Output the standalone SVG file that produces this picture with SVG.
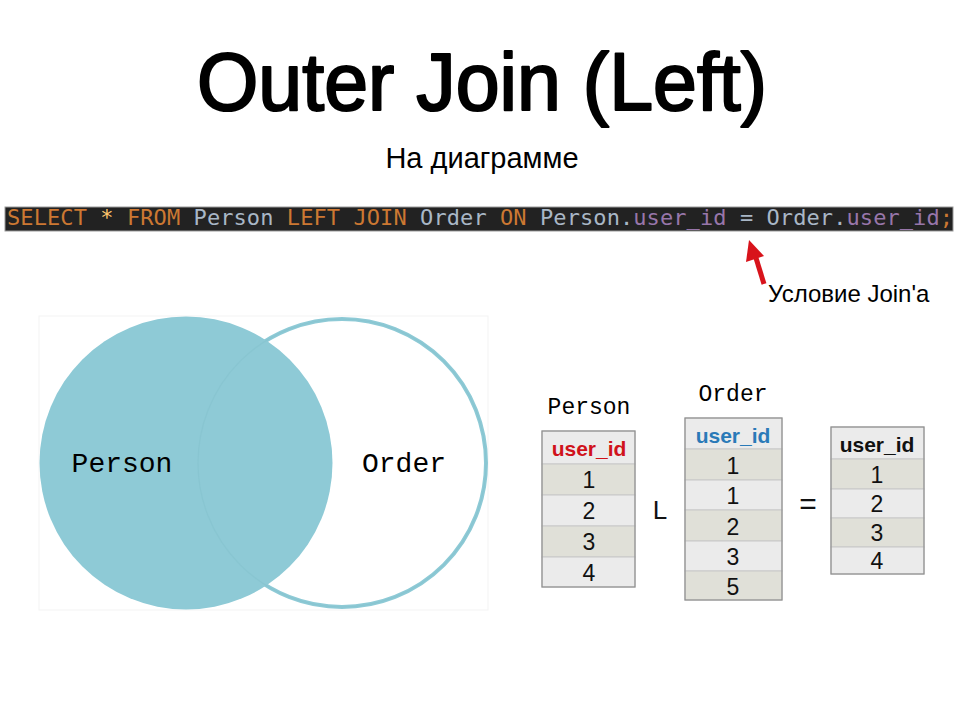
<svg xmlns="http://www.w3.org/2000/svg" width="963" height="701" viewBox="0 0 963 701">
  <defs>
    <style>
      .title { font-family: "Liberation Sans", Arial, sans-serif; font-size: 81px; fill: #000; stroke: #000; stroke-width: 2.2; stroke-linejoin: round; }
      .sub { font-family: "Liberation Sans", Arial, sans-serif; font-size: 29px; fill: #000; }
      .code { font-family: "DejaVu Sans Mono", monospace; font-size: 22px; }
      .kw { fill: #cc7832; }
      .id { fill: #a9b7c6; }
      .fld { fill: #9876aa; }
      .star { fill: #ffc66d; }
      .mono { font-family: "Liberation Mono", "Courier New", monospace; fill: #000; }
      .cell { font-family: "Liberation Sans", Arial, sans-serif; font-size: 23px; fill: #111; text-anchor: middle; }
      .hdr { font-family: "Liberation Sans", Arial, sans-serif; font-size: 21px; font-weight: bold; text-anchor: middle; }
      .rowA { fill: #e0e0d8; stroke: #c8c8c8; stroke-width: 1; }
      .rowB { fill: #ebebeb; stroke: #c8c8c8; stroke-width: 1; }
      .frame { fill: none; stroke: #8f8f8f; stroke-width: 1.2; }
      .op { font-family: "Liberation Sans", Arial, sans-serif; font-size: 26px; fill: #111; text-anchor: middle; }
    </style>
  </defs>

  <rect width="963" height="701" fill="#ffffff"/>

  <!-- Heading -->
  <g id="heading">
    <text class="title" x="197" y="110" textLength="570" lengthAdjust="spacingAndGlyphs">Outer Join (Left)</text>
    <text class="sub" x="482" y="168" text-anchor="middle">На диаграмме</text>
  </g>

  <!-- SQL statement -->
  <g id="query">
    <rect x="5" y="207" width="948" height="24" fill="#222222" stroke="#9a9a9a" stroke-width="1"/>
    <text class="code" x="7" y="225" textLength="946" lengthAdjust="spacing"><tspan class="kw">SELECT</tspan><tspan class="id"> </tspan><tspan class="star">*</tspan><tspan class="id"> </tspan><tspan class="kw">FROM</tspan><tspan class="id"> Person </tspan><tspan class="kw">LEFT JOIN</tspan><tspan class="id"> Order </tspan><tspan class="kw">ON</tspan><tspan class="id"> Person.</tspan><tspan class="fld">user_id</tspan><tspan class="id"> = Order.</tspan><tspan class="fld">user_id</tspan><tspan class="kw">;</tspan></text>
  </g>

  <!-- Connectors -->
  <g id="connectors">
    <line x1="764" y1="284" x2="756" y2="258" stroke="#d8131b" stroke-width="5"/>
    <polygon points="749,240 764,256 746,262" fill="#d8131b"/>
  </g>

  <g id="condition-label">
    <text class="sub" x="768" y="302" style="font-size:24px">Условие Join'a</text>
  </g>

  <!-- Venn diagram -->
  <g id="venn">
    <rect x="39" y="316" width="449" height="294" fill="#ffffff" stroke="#f3f3f3" stroke-width="1"/>
    <circle cx="342" cy="463" r="144" fill="#ffffff" stroke="#8ecad6" stroke-width="4"/>
    <circle cx="186" cy="463" r="146.5" fill="#8ecad6"/>
    <circle cx="342" cy="463" r="144" fill="none" stroke="#86c3cf" stroke-width="1.2" opacity="0.7"/>
    <text class="mono" x="122" y="472" font-size="28" text-anchor="middle">Person</text>
    <text class="mono" x="404" y="472" font-size="28" text-anchor="middle">Order</text>
  </g>

  <!-- Person table -->
  <g id="person-table">
    <text class="mono" x="589" y="414" font-size="23" text-anchor="middle">Person</text>
    <rect class="rowB" x="542" y="431" width="93" height="33"/>
    <rect class="rowA" x="542" y="464" width="93" height="31"/>
    <rect class="rowB" x="542" y="495" width="93" height="31"/>
    <rect class="rowA" x="542" y="526" width="93" height="31"/>
    <rect class="rowB" x="542" y="557" width="93" height="30"/>
    <rect class="frame" x="542" y="431" width="93" height="156"/>
    <text class="hdr" x="589" y="456" fill="#d0121b">user_id</text>
    <text class="cell" x="589" y="488">1</text>
    <text class="cell" x="589" y="519">2</text>
    <text class="cell" x="589" y="550">3</text>
    <text class="cell" x="589" y="581">4</text>
  </g>

  <g id="join-op">
    <text class="op" x="660" y="519">L</text>
  </g>

  <!-- Order table -->
  <g id="order-table">
    <text class="mono" x="733" y="401" font-size="23" text-anchor="middle">Order</text>
    <rect class="rowB" x="685" y="418" width="97" height="31"/>
    <rect class="rowA" x="685" y="449" width="97" height="31"/>
    <rect class="rowB" x="685" y="480" width="97" height="30"/>
    <rect class="rowA" x="685" y="510" width="97" height="31"/>
    <rect class="rowB" x="685" y="541" width="97" height="30"/>
    <rect class="rowA" x="685" y="571" width="97" height="29"/>
    <rect class="frame" x="685" y="418" width="97" height="182"/>
    <text class="hdr" x="733" y="443" fill="#2a7ab8">user_id</text>
    <text class="cell" x="733" y="474">1</text>
    <text class="cell" x="733" y="504">1</text>
    <text class="cell" x="733" y="535">2</text>
    <text class="cell" x="733" y="565">3</text>
    <text class="cell" x="733" y="595">5</text>
  </g>

  <g id="equals-op">
    <text class="op" x="808" y="514" style="font-size:30px">=</text>
  </g>

  <!-- Result table -->
  <g id="result-table">
    <rect class="rowB" x="831" y="427" width="93" height="32"/>
    <rect class="rowA" x="831" y="459" width="93" height="30"/>
    <rect class="rowB" x="831" y="489" width="93" height="29"/>
    <rect class="rowA" x="831" y="518" width="93" height="29"/>
    <rect class="rowB" x="831" y="547" width="93" height="27"/>
    <rect class="frame" x="831" y="427" width="93" height="147"/>
    <text class="hdr" x="877" y="452" fill="#111">user_id</text>
    <text class="cell" x="877" y="483">1</text>
    <text class="cell" x="877" y="512">2</text>
    <text class="cell" x="877" y="541">3</text>
    <text class="cell" x="877" y="569">4</text>
  </g>
</svg>
